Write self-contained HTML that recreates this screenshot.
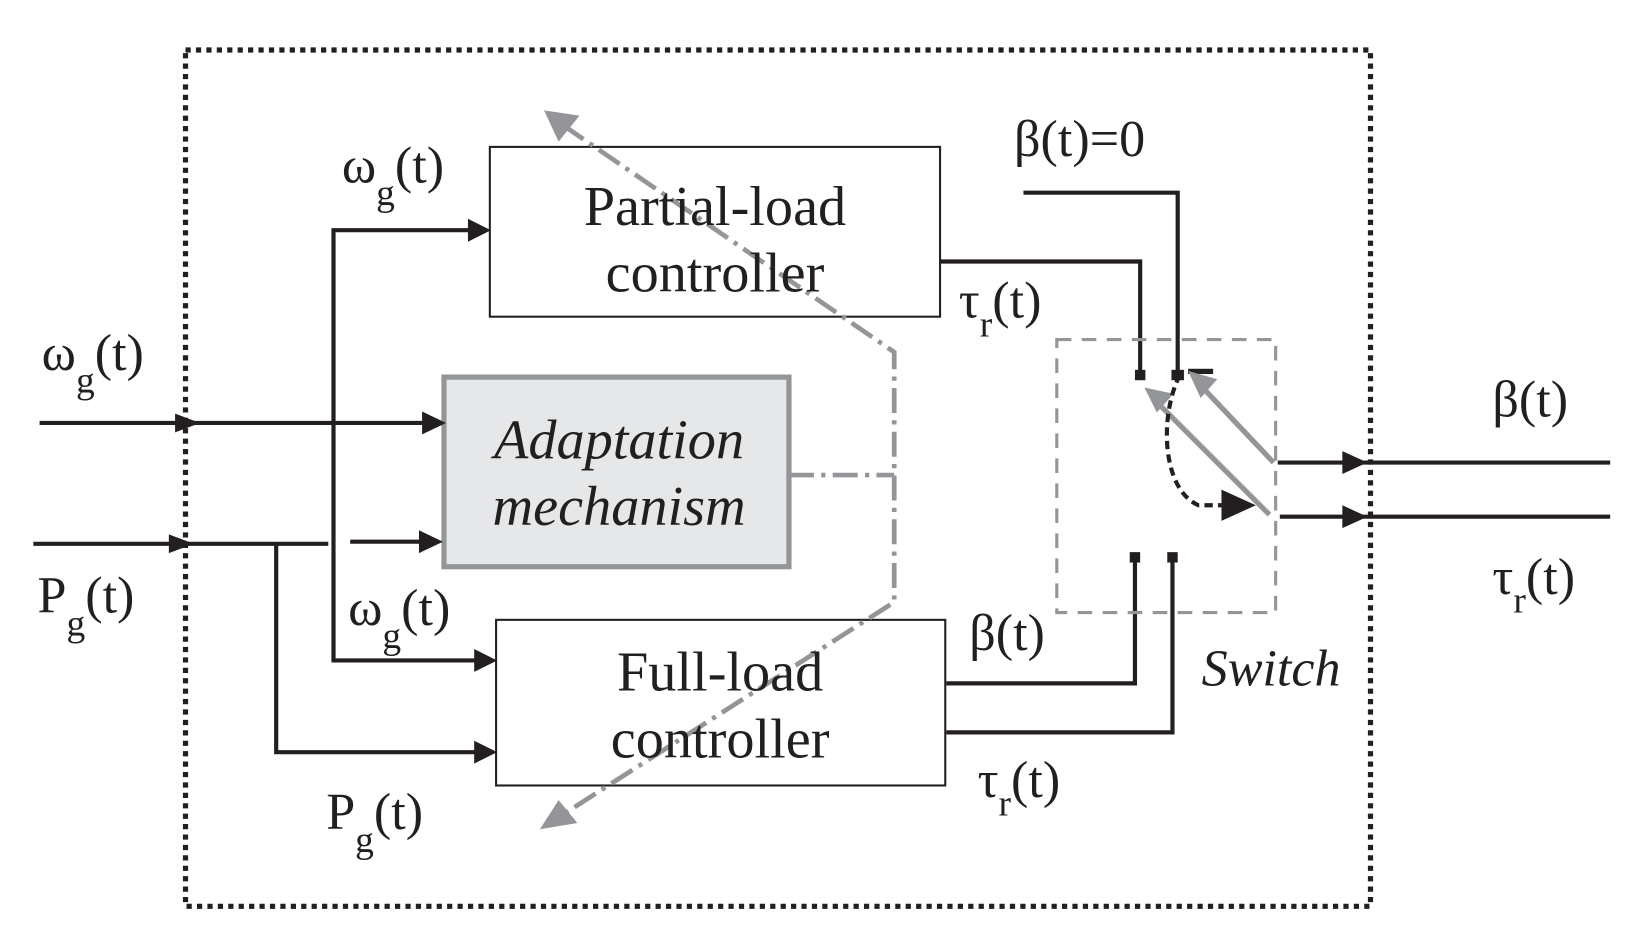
<!DOCTYPE html>
<html><head><meta charset="utf-8"><style>html,body{margin:0;padding:0;background:#fff}svg{display:block}svg text{font-family:"Liberation Serif","Times New Roman","Tinos","Nimbus Roman","DejaVu Serif",serif}</style></head>
<body>
<svg width="1630" height="948" viewBox="0 0 1564 910" preserveAspectRatio="none" xmlns="http://www.w3.org/2000/svg" fill="#231f20">
<g stroke="#231f20" stroke-width="4" fill="none">
<rect x="178" y="48" width="1137" height="822" stroke-dasharray="5,5" stroke-width="5"/>
</g>
<rect x="470" y="141" width="432" height="163" fill="#fff" stroke="#231f20" stroke-width="2"/>
<rect x="476" y="595" width="431" height="159" fill="#fff" stroke="#231f20" stroke-width="2"/>
<rect x="426" y="362" width="331" height="182" fill="#e6e7e9" stroke="#939598" stroke-width="5"/>
<g stroke="#231f20" stroke-width="4" fill="none">
<line x1="38" y1="406" x2="410" y2="406"/>
<line x1="32" y1="522" x2="315" y2="522"/>
<line x1="336" y1="520" x2="410" y2="520"/>
<polyline points="455,221 320,221 320,634 458,634"/>
<polyline points="265,522 265,722 458,722"/>
<polyline points="902,251 1094,251 1094,360"/>
<polyline points="982,185 1130,185 1130,360"/>
<polyline points="908,656 1089,656 1089,535"/>
<polyline points="908,703 1125,703 1125,535"/>
<line x1="1226" y1="444" x2="1545" y2="444"/>
<line x1="1228" y1="496" x2="1545" y2="496"/>
</g>
<g fill="#231f20">
<path d="M168,397 L192,406 L168,415z"/>
<path d="M162,513 L186,522 L162,531z"/>
<path d="M405,395 L428,406 L405,417z"/>
<path d="M402,509 L425,520 L402,531z"/>
<path d="M449,210 L471,221 L449,232z"/>
<path d="M455,623 L477,634 L455,645z"/>
<path d="M455,711 L477,722 L455,733z"/>
<path d="M1288,433 L1312,444 L1288,455z"/>
<path d="M1288,485 L1312,496 L1288,507z"/>
<rect x="1089" y="355" width="10" height="10"/>
<rect x="1124" y="355" width="12" height="10"/>
<rect x="1140" y="354" width="24" height="5"/>
<rect x="1084" y="530" width="10" height="10"/>
<rect x="1120" y="530" width="10" height="10"/>
<path d="M1172,470 L1205,485 L1172,500z"/>
</g>
<rect x="1014" y="326" width="210" height="262" fill="none" stroke="#939598" stroke-width="3" stroke-dasharray="14,10"/>
<g stroke="#939598" stroke-width="5">
<line x1="1222" y1="444" x2="1152" y2="370"/>
<line x1="1218" y1="494" x2="1110" y2="386"/>
</g>
<g fill="#939598">
<path d="M1140,356 L1168,364 L1152,382z"/>
<path d="M1098,372 L1126,378 L1110,396z"/>
</g>
<path d="M1132,360 C1112,400 1115,470 1150,485 L1172,485" fill="none" stroke="#231f20" stroke-width="4" stroke-dasharray="8,5"/>
<g stroke="#939598" stroke-width="4.5" fill="none" stroke-dasharray="24,7,4,7">
<polyline points="757,456 858,456"/>
<polyline points="540,120 858,338 858,578 540,782"/>
</g>
<g fill="#939598">
<path d="M522,106 L556,111 L536,136z"/>
<path d="M518,796 L536,768 L554,790z"/>
</g>
<g font-size="54" text-anchor="middle">
<text x="686" y="216">Partial-load</text>
<text x="686" y="280">controller</text>
<text x="691" y="663">Full-load</text>
<text x="691" y="727">controller</text>
<text x="594" y="440" font-style="italic">Adaptation</text>
<text x="594" y="504" font-style="italic">mechanism</text>
</g>
<g font-size="50">
<text x="40" y="355">ω<tspan font-size="36" dy="22">g</tspan><tspan dy="-22">(t)</tspan></text>
<text x="36" y="588">P<tspan font-size="36" dy="22">g</tspan><tspan dy="-22">(t)</tspan></text>
<text x="328" y="175">ω<tspan font-size="36" dy="22">g</tspan><tspan dy="-22">(t)</tspan></text>
<text x="334" y="600">ω<tspan font-size="36" dy="22">g</tspan><tspan dy="-22">(t)</tspan></text>
<text x="313" y="796">P<tspan font-size="36" dy="22">g</tspan><tspan dy="-22">(t)</tspan></text>
<text x="973" y="150">β(t)=0</text>
<text x="920" y="305">τ<tspan font-size="36" dy="18">r</tspan><tspan dy="-18">(t)</tspan></text>
<text x="930" y="624">β(t)</text>
<text x="938" y="765">τ<tspan font-size="36" dy="18">r</tspan><tspan dy="-18">(t)</tspan></text>
<text x="1432" y="400">β(t)</text>
<text x="1432" y="570">τ<tspan font-size="36" dy="18">r</tspan><tspan dy="-18">(t)</tspan></text>
<text x="1153" y="658" font-style="italic">Switch</text>
</g>
</svg>
</body></html>
